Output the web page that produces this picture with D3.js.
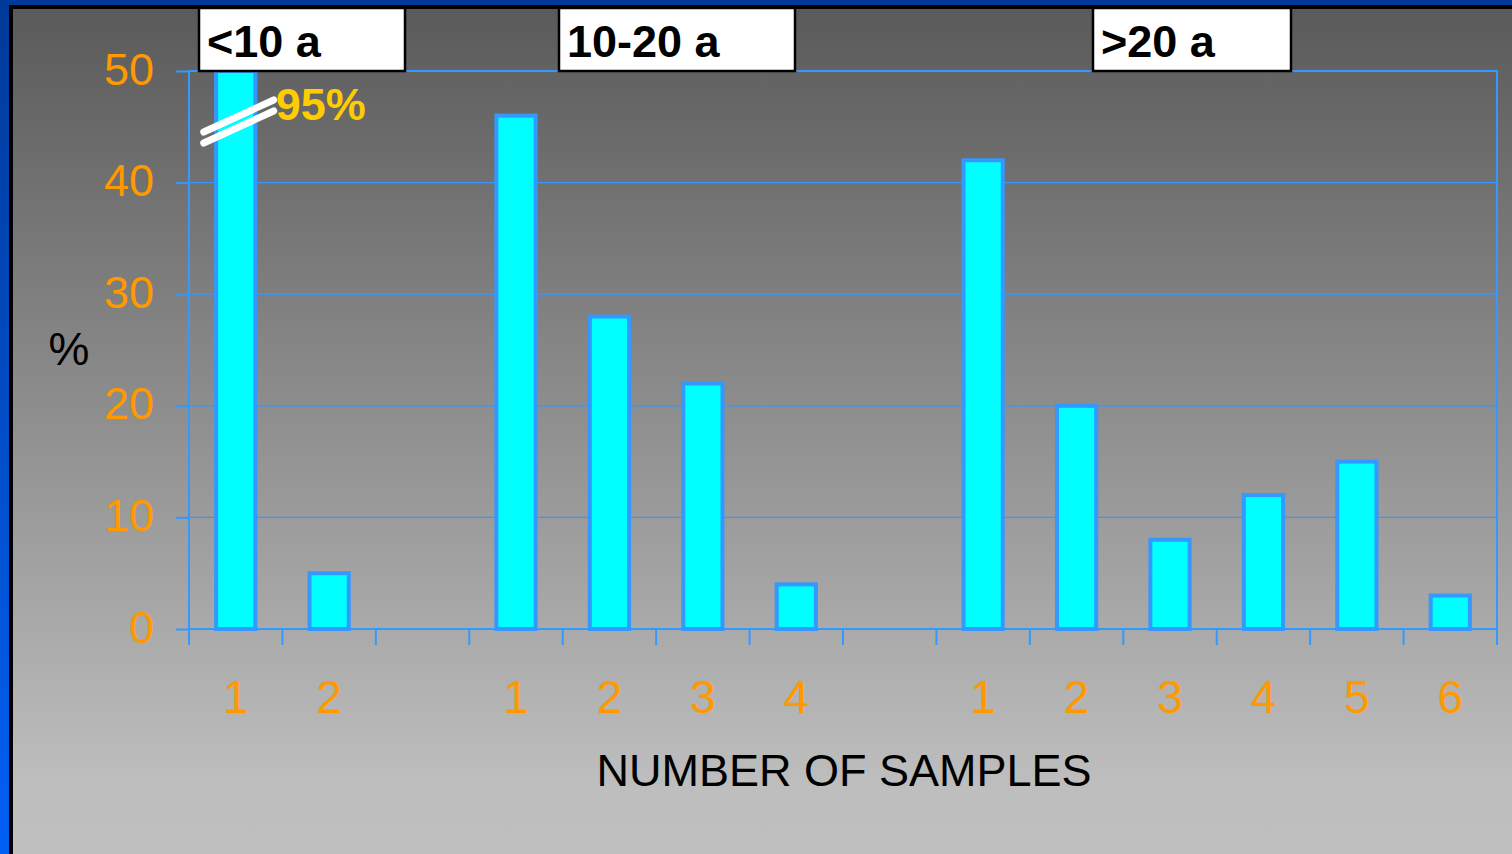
<!DOCTYPE html>
<html>
<head>
<meta charset="utf-8">
<script src="https://cdn.jsdelivr.net/npm/d3@7"></script>
<style>
  html, body { margin: 0; padding: 0; background: #5a5a5a; }
  svg { display: block; }
</style>
</head>
<body>
<svg id="chart" width="1512" height="854"></svg>
<script>
// ---- data ----
const groupNames = ["<10 a", "10-20 a", ">20 a"];
const group1Samples = ["1", "2"];
const group2Samples = ["1", "2", "3", "4"];
const group3Samples = ["1", "2", "3", "4", "5", "6"];
const group1Values = [95, 5];
const group2Values = [46, 28, 22, 4];
const group3Values = [42, 20, 8, 12, 15, 3];
const yTicks = [0, 10, 20, 30, 40, 50];
const yMax = 50;
const brokenLabel = "95%";
const xTitle = "NUMBER OF SAMPLES";
const yTitle = "%";

// build slot list (with one empty slot between groups)
const groupsData = [
  { name: groupNames[0], samples: group1Samples, values: group1Values },
  { name: groupNames[1], samples: group2Samples, values: group2Values },
  { name: groupNames[2], samples: group3Samples, values: group3Values }
];
const slots = [];
groupsData.forEach((g, gi) => {
  g.samples.forEach((s, i) => slots.push({ id: `g${gi}-${i}`, label: s, value: g.values[i], group: gi }));
  if (gi < groupsData.length - 1) slots.push({ id: `gap${gi}`, label: "", value: null, group: gi });
});

const W = 1512, H = 854;
const svg = d3.select("#chart");
const defs = svg.append("defs");

// background gradient
const bg = defs.append("linearGradient").attr("id", "bg").attr("x1", 0).attr("y1", 0).attr("x2", 0).attr("y2", 1);
bg.append("stop").attr("offset", "0%").attr("stop-color", "#595959");
bg.append("stop").attr("offset", "92%").attr("stop-color", "#bebebe");
bg.append("stop").attr("offset", "100%").attr("stop-color", "#bfbfbf");
const lb = defs.append("linearGradient").attr("id", "lb").attr("x1", 0).attr("y1", 0).attr("x2", 0).attr("y2", 1);
lb.append("stop").attr("offset", "0%").attr("stop-color", "#003a99");
lb.append("stop").attr("offset", "100%").attr("stop-color", "#0060f5");

svg.append("rect").attr("width", W).attr("height", H).attr("fill", "url(#bg)");
// frame borders (top and left)
svg.append("rect").attr("x", 0).attr("y", 0).attr("width", W).attr("height", 5).attr("fill", "#003a99");
svg.append("rect").attr("x", 0).attr("y", 0).attr("width", 9).attr("height", H).attr("fill", "url(#lb)");
svg.append("rect").attr("x", 9).attr("y", 5).attr("width", W - 9).attr("height", 4).attr("fill", "#000");
svg.append("rect").attr("x", 9).attr("y", 5).attr("width", 4).attr("height", H - 5).attr("fill", "#000");

const plot = { left: 189, right: 1497, top: 71, bottom: 629 };
const blue = "#3399ff";
const orange = "#ff9900";

const x = d3.scaleBand().domain(slots.map(d => d.id)).range([plot.left, plot.right]).padding(0);
const y = d3.scaleLinear().domain([0, yMax]).range([plot.bottom, plot.top]);

// gridlines
svg.append("g").selectAll("line").data(yTicks.filter(t => t > 0)).join("line")
  .attr("x1", plot.left).attr("x2", plot.right)
  .attr("y1", d => y(d)).attr("y2", d => y(d))
  .attr("stroke", blue).attr("stroke-width", d => d === yMax ? 2 : 1.3);
// right frame
svg.append("line").attr("x1", plot.right).attr("x2", plot.right).attr("y1", plot.top - 1).attr("y2", plot.bottom + 16)
  .attr("stroke", blue).attr("stroke-width", 2);

// y axis
const yAxis = d3.axisLeft(y).tickValues(yTicks).tickSize(13).tickPadding(22);
const yG = svg.append("g").attr("transform", `translate(${plot.left},0)`).call(yAxis);
yG.select(".domain").attr("stroke", blue).attr("stroke-width", 2).attr("d", `M0,${plot.top}V${plot.bottom + 16}`);
yG.selectAll(".tick line").attr("stroke", blue).attr("stroke-width", 2);
yG.selectAll(".tick text").attr("fill", orange).attr("font-family", "Liberation Sans, Arial, sans-serif")
  .attr("font-size", 45).attr("dy", "0.29em");

// x axis baseline and ticks at slot boundaries
svg.append("line").attr("x1", plot.left).attr("x2", plot.right).attr("y1", plot.bottom).attr("y2", plot.bottom)
  .attr("stroke", blue).attr("stroke-width", 2);
const boundaries = slots.map(d => x(d.id)).concat([plot.right]);
svg.append("g").selectAll("line").data(boundaries).join("line")
  .attr("x1", d => d).attr("x2", d => d).attr("y1", plot.bottom).attr("y2", plot.bottom + 16)
  .attr("stroke", blue).attr("stroke-width", 2);

// x labels
svg.append("g").selectAll("text").data(slots.filter(d => d.label)).join("text")
  .attr("x", d => x(d.id) + x.bandwidth() / 2).attr("y", 713)
  .attr("text-anchor", "middle").attr("fill", orange)
  .attr("font-family", "Liberation Sans, Arial, sans-serif").attr("font-size", 46)
  .text(d => d.label);

// bars
const barW = x.bandwidth() * 0.42;
svg.append("g").selectAll("rect").data(slots.filter(d => d.value != null)).join("rect")
  .attr("x", d => x(d.id) + (x.bandwidth() - barW) / 2)
  .attr("y", d => y(Math.min(d.value, yMax)))
  .attr("width", barW)
  .attr("height", d => plot.bottom - y(Math.min(d.value, yMax)))
  .attr("fill", "#00ffff").attr("stroke", blue).attr("stroke-width", 4);

// broken bar mark + label
const broken = slots.find(d => d.value > yMax);
const bx = x(broken.id) + x.bandwidth() / 2;
[[0, 0], [0, 11]].forEach(([dx, dy]) => {
  svg.append("line").attr("x1", bx - 32).attr("y1", 132 + dy).attr("x2", bx + 38).attr("y2", 100 + dy)
    .attr("stroke", "#fff").attr("stroke-width", 7).attr("stroke-linecap", "round");
});
svg.append("text").attr("x", bx + 40).attr("y", 120).attr("fill", "#ffcc00")
  .attr("font-family", "Liberation Sans, Arial, sans-serif").attr("font-weight", "bold").attr("font-size", 45)
  .text(brokenLabel);

// group label boxes
const boxes = [
  { x: 199, w: 206 },
  { x: 559, w: 236 },
  { x: 1093, w: 198 }
];
groupsData.forEach((g, i) => {
  const b = boxes[i];
  svg.append("rect").attr("x", b.x).attr("y", 8).attr("width", b.w).attr("height", 63)
    .attr("fill", "#fff").attr("stroke", "#000").attr("stroke-width", 2.5);
  svg.append("text").attr("x", b.x + 8).attr("y", 57).attr("fill", "#000")
    .attr("font-family", "Liberation Sans, Arial, sans-serif").attr("font-weight", "bold").attr("font-size", 45)
    .text(g.name);
});

// axis titles
svg.append("text").attr("x", 844).attr("y", 786).attr("text-anchor", "middle").attr("fill", "#000")
  .attr("font-family", "Liberation Sans, Arial, sans-serif").attr("font-size", 45).text(xTitle);
svg.append("text").attr("x", 69).attr("y", 365).attr("text-anchor", "middle").attr("fill", "#000")
  .attr("font-family", "Liberation Sans, Arial, sans-serif").attr("font-size", 46).text(yTitle);
</script>
</body>
</html>
